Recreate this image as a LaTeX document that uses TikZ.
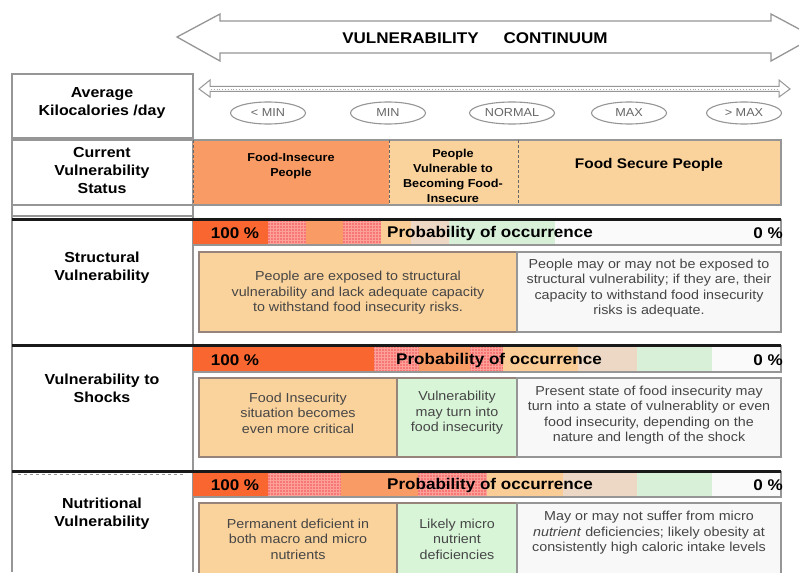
\documentclass[tikz,border=0pt]{standalone}
\usepackage{fontspec}
\setmainfont{Liberation Sans}[FakeStretch=1.1]
\usetikzlibrary{shapes.geometric}

\definecolor{darkor}{RGB}{249,102,48}
\definecolor{salmon}{RGB}{249,155,100}
\definecolor{pinkc}{RGB}{247,118,118}
\definecolor{pinkline}{RGB}{252,160,152}
\definecolor{peach}{RGB}{250,210,155}
\definecolor{peachbar}{RGB}{250,205,150}
\definecolor{tan}{RGB}{236,216,196}
\definecolor{lgreen}{RGB}{216,240,216}
\definecolor{barwhite}{RGB}{250,250,250}
\definecolor{boxgreen}{RGB}{216,245,216}
\definecolor{boxwhite}{RGB}{248,248,248}
\definecolor{bodygray}{RGB}{70,70,70}
\definecolor{framegray}{RGB}{150,150,150}
\definecolor{boxframe}{RGB}{150,132,122}
\definecolor{arrowgray}{RGB}{150,150,150}

% plain coloured stretch of a probability bar
\newcommand\plainseg[5]{\fill[#5] (#1,#3) rectangle (#2,#4);}
% checked pink stretch of a probability bar: pink ground with a fine light mesh
\newcommand\checkseg[4]{%
  \fill[pinkc] (#1,#3) rectangle (#2,#4);
  \begin{scope}
    \clip (#1,#3) rectangle (#2,#4);
    \foreach \gx in {#1,...,#2} {
      \pgfmathparse{mod(\gx,3)==0}
      \ifnum\pgfmathresult=1 \draw[pinkline, line width=0.7] (\gx,#3) -- (\gx,#4); \fi
    }
    \foreach \gy in {#3,...,#4} {
      \pgfmathparse{mod(\gy,3)==0}
      \ifnum\pgfmathresult=1 \draw[pinkline, line width=0.7] (#1,\gy) -- (#2,\gy); \fi
    }
  \end{scope}}

\begin{document}
\begin{tikzpicture}[x=1pt,y=-1pt,
  cellline/.style={draw=framegray, line width=1.4},
  rulebar/.style={draw=black!90, line width=3},
  boxfr/.style={draw=boxframe, line width=1.3},
  rowlabel/.style={font=\fontsize{14.5}{18}\selectfont\bfseries, align=center, inner sep=0},
  headtext/.style={font=\fontsize{11.5}{15}\selectfont\bfseries, align=center, inner sep=0},
  body/.style={font=\fontsize{13}{15.5}\selectfont, text=bodygray, align=center, inner sep=0},
  bartext/.style={font=\fontsize{15.5}{18}\selectfont\bfseries, inner sep=0},
  oval/.style={ellipse, draw=arrowgray, line width=1.1, minimum width=75, minimum height=22,
    inner sep=0, text=black!60, font=\fontsize{11.5}{12}\selectfont},
  outline/.style={draw=arrowgray, line width=1.3, fill=white, line join=miter}]

\useasboundingbox (0,0) rectangle (799,572);
\clip (0,0) rectangle (799,572);
\fill[white] (0,0) rectangle (799,572);

% ---- continuum arrow ----
\draw[outline] (177,37) -- (220,14) -- (220,21) -- (771,21) -- (771,14) -- (814,37)
  -- (771,61) -- (771,53) -- (220,53) -- (220,61) -- cycle;
\node[font=\fontsize{15.5}{18}\selectfont\bfseries] (continuum) at (475,38)
  {VULNERABILITY\hspace{1.6em}CONTINUUM};

% ---- kilocalorie scale ----
\draw[draw=arrowgray, line width=1, fill=white] (199,89) -- (210,80) -- (210,86.5) -- (779,86.5)
  -- (779,80) -- (790,89) -- (779,97) -- (779,91.5) -- (210,91.5) -- (210,97) -- cycle;
\draw[black!35, line width=0.8, dotted] (211,89) -- (778,89);
\node[oval] (lessmin) at (268,113) {< MIN};
\node[oval] (min) at (388,113) {MIN};
\node[oval, minimum width=85] (normal) at (512,113) {NORMAL};
\node[oval] (max) at (629,113) {MAX};
\node[oval] (moremax) at (744,113) {> MAX};

% ---- left column ----
\draw[cellline] (12,74) rectangle (193,138);
\draw[cellline] (12,140) rectangle (193,205);
\draw[cellline] (12,205) -- (12,572) (193,205) -- (193,572) (12,216) -- (193,216);
\node[rowlabel] (kcal) at (102,103) {Average\\Kilocalories /day};
\node[rowlabel] (status) at (102,171) {Current\\Vulnerability\\Status};
\node[rowlabel] (structural) at (102,268) {Structural\\Vulnerability};
\node[rowlabel] (shocks) at (102,388) {Vulnerability to\\Shocks};
\node[rowlabel] (nutritional) at (102,514) {Nutritional\\Vulnerability};

% ---- current status cells ----
\fill[salmon] (193,140) rectangle (389,205);
\fill[peach] (389,140) rectangle (518,205);
\fill[peach] (518,140) rectangle (781,205);
\draw[framegray, line width=1.2] (193,140) -- (781,140) -- (781,205) -- (193,205);
\draw[black!60, line width=0.8, densely dashed] (193,140) -- (193,205) (389,140) -- (389,205)
  (518,140) -- (518,205);
\node[headtext] (insecure) at (291,166) {Food-Insecure\\People};
\node[headtext] (vulnerable) at (453,176) {People\\Vulnerable to\\Becoming Food-\\Insecure};
\node[font=\fontsize{14}{16}\selectfont\bfseries, inner sep=0] (secure) at (649,165) {Food Secure People};

% ---- structural vulnerability ----
\plainseg{193}{268}{220}{245}{darkor}
\checkseg{268}{306}{220}{245}
\plainseg{306}{343}{220}{245}{salmon}
\checkseg{343}{381}{220}{245}
\plainseg{381}{411}{220}{245}{peachbar}
\plainseg{411}{449}{220}{245}{tan}
\plainseg{449}{555}{220}{245}{lgreen}
\plainseg{555}{781}{220}{245}{barwhite}
\draw[framegray, line width=1.2] (193,245) -- (781,245) -- (781,219);
\draw[rulebar] (12,219) -- (781,219);
\node[bartext] (s100) at (235,233) {100 \%};
\node[bartext] (sprob) at (490,233) {Probability of occurrence};
\node[bartext, anchor=east] (s0) at (783,233) {0 \%};

\draw[boxfr, fill=peach] (199,252) rectangle (517,332);
\draw[boxfr, draw=framegray, fill=boxwhite] (517,252) rectangle (781,332);
\node[body] (sleft) at (358,293) {People are exposed to structural\\vulnerability and lack adequate capacity\\to withstand food insecurity risks.};
\node[body] (sright) at (649,288) {People may or may not be exposed to\\structural vulnerability; if they are, their\\capacity to withstand food insecurity\\risks is adequate.};

% ---- vulnerability to shocks ----
\plainseg{193}{374}{347}{372}{darkor}
\checkseg{374}{419}{347}{372}
\plainseg{419}{470}{347}{372}{salmon}
\checkseg{470}{503}{347}{372}
\plainseg{503}{578}{347}{372}{peachbar}
\plainseg{578}{637}{347}{372}{tan}
\plainseg{637}{712}{347}{372}{lgreen}
\plainseg{712}{781}{347}{372}{barwhite}
\draw[framegray, line width=1.2] (193,372) -- (781,372) -- (781,345);
\draw[rulebar] (12,345) -- (781,345);
\node[bartext] (h100) at (235,360) {100 \%};
\node[bartext] (hprob) at (499,360) {Probability of occurrence};
\node[bartext, anchor=east] (h0) at (783,360) {0 \%};

\draw[boxfr, fill=peach] (199,378) rectangle (397,457);
\draw[boxfr, fill=boxgreen] (397,378) rectangle (517,457);
\draw[boxfr, draw=framegray, fill=boxwhite] (517,378) rectangle (781,457);
\node[body] (hleft) at (298,413) {Food Insecurity\\situation becomes\\even more critical};
\node[body] (hmid) at (457,413) {Vulnerability\\may turn into\\food insecurity};
\node[body] (hright) at (649,415) {Present state of food insecurity may\\turn into a state of vulnerablity or even\\food insecurity, depending on the\\nature and length of the shock};

% ---- nutritional vulnerability ----
\plainseg{193}{268}{473}{497}{darkor}
\checkseg{268}{341}{473}{497}
\plainseg{341}{418}{473}{497}{salmon}
\checkseg{418}{487}{473}{497}
\plainseg{487}{563}{473}{497}{peachbar}
\plainseg{563}{637}{473}{497}{tan}
\plainseg{637}{712}{473}{497}{lgreen}
\plainseg{712}{781}{473}{497}{barwhite}
\draw[framegray, line width=1.2] (193,497) -- (781,497) -- (781,471);
\draw[rulebar] (12,471) -- (781,471);
\draw[framegray, line width=0.8, dashed] (18,474.5) -- (186,474.5);
\node[bartext] (n100) at (235,485) {100 \%};
\node[bartext] (nprob) at (490,485) {Probability of occurrence};
\node[bartext, anchor=east] (n0) at (783,485) {0 \%};

\draw[boxfr, fill=peach] (199,503) rectangle (397,580);
\draw[boxfr, fill=boxgreen] (397,503) rectangle (517,580);
\draw[boxfr, draw=framegray, fill=boxwhite] (517,503) rectangle (781,580);
\node[body] (nleft) at (298,539) {Permanent deficient in\\both macro and micro\\nutrients};
\node[body] (nmid) at (457,539) {Likely micro\\nutrient\\deficiencies};
\node[body] (nright) at (649,533) {May or may not suffer from micro\\\textit{nutrient} deficiencies; likely obesity at\\consistently high caloric intake levels};

\end{tikzpicture}
\end{document}
